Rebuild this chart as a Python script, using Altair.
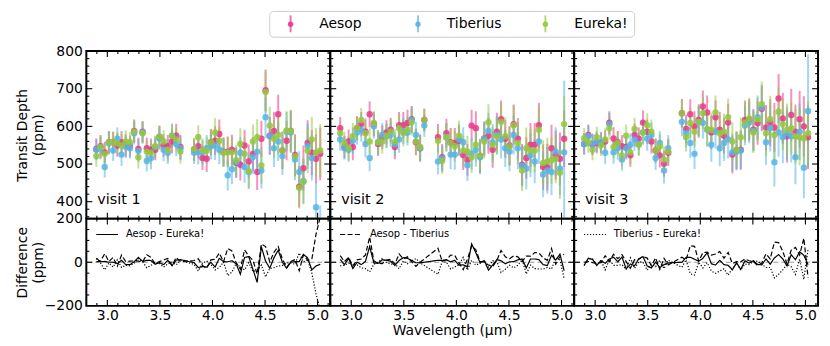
import altair as alt
import pandas as pd

SERIES = ["Aesop", "Tiberius", "Eureka!"]
COLORS = ["#E8388A", "#56B4E9", "#93C83E"]
VISITS = ["visit 1", "visit 2", "visit 3"]
PAIRS = ["Aesop - Eureka!", "Aesop - Tiberius", "Tiberius - Eureka!"]

wavelength = [2.895, 2.935, 2.975, 3.015, 3.055, 3.095, 3.135, 3.175, 3.215, 3.255,
              3.295, 3.335, 3.375, 3.415, 3.455, 3.495, 3.535, 3.575, 3.615, 3.655, 3.695,
              3.825, 3.865, 3.905, 3.945, 3.985, 4.025, 4.065, 4.105, 4.145, 4.185,
              4.225, 4.265, 4.305, 4.345, 4.385, 4.425, 4.465, 4.505, 4.545, 4.585,
              4.625, 4.665, 4.705, 4.745, 4.785, 4.825, 4.865, 4.905, 4.945, 4.985, 5.025]

aesop = {
    "visit 1": [540, 547, 531, 558, 558, 549, 558, 549, 547, 588, 540, 586, 542, 538, 538, 571, 549, 547, 560, 575, 545,
                538, 547, 516, 514, 558, 562, 580, 533, 533, 538, 503, 498, 549, 507, 527, 479, 567, 696, 575, 588,
                632, 536, 562, 588, 524, 440, 489, 556, 530, 514, 527],
    "visit 2": [595, 545, 560, 545, 595, 606, 586, 632, 606, 553, 571, 584, 591, 545, 603, 603, 609, 619, 558, 542, 617,
                571, 518, 582, 558, 556, 562, 524, 511, 602, 595, 521, 568, 575, 538, 586, 619, 567, 549, 606, 567,
                498, 516, 551, 551, 603, 492, 492, 542, 524, 514, 567],
    "visit 3": [553, 577, 551, 556, 556, 560, 610, 568, 558, 547, 545, 523, 577, 567, 610, 586, 560, 536, 523, 501, 530,
                635, 593, 632, 600, 617, 653, 637, 584, 624, 591, 575, 610, 525, 536, 538, 617, 617, 591, 609, 647,
                597, 610, 597, 674, 621, 574, 630, 586, 619, 600, 571],
}
tiberius = {
    "visit 1": [538, 542, 492, 555, 536, 567, 525, 546, 542, 582, 535, 584, 508, 516, 545, 568, 538, 530, 575, 553, 542,
                530, 531, 531, 542, 547, 549, 538, 531, 470, 486, 505, 530, 492, 479, 518, 533, 483, 624, 574, 542,
                560, 521, 586, 584, 512, 479, 455, 547, 516, 385, 320],
    "visit 2": [565, 542, 538, 562, 584, 591, 553, 516, 600, 558, 577, 574, 577, 553, 565, 588, 584, 617, 577, 542, 602,
                507, 514, 571, 525, 525, 565, 558, 497, 527, 538, 518, 567, 588, 558, 577, 565, 542, 533, 577, 542,
                495, 488, 523, 507, 560, 472, 483, 479, 533, 488, 531],
    "visit 3": [553, 574, 553, 560, 558, 530, 606, 531, 542, 512, 542, 551, 565, 553, 584, 567, 577, 516, 556, 483, 542,
                612, 582, 556, 527, 612, 609, 591, 551, 586, 542, 556, 565, 531, 533, 536, 602, 610, 588, 624, 650,
                558, 595, 505, 584, 571, 582, 574, 518, 586, 490, 641],
}
eureka = {
    "visit 1": [521, 545, 527, 558, 558, 555, 549, 560, 558, 586, 518, 582, 533, 530, 547, 573, 560, 538, 575, 565, 533,
                540, 571, 536, 536, 558, 584, 562, 530, 531, 531, 510, 553, 527, 481, 560, 571, 496, 691, 602, 567,
                577, 536, 589, 588, 521, 437, 453, 536, 565, 531, 536],
    "visit 2": [582, 556, 542, 574, 595, 617, 582, 560, 609, 558, 560, 575, 586, 560, 595, 582, 591, 611, 560, 545, 617,
                562, 509, 571, 556, 547, 575, 536, 533, 518, 551, 523, 560, 611, 551, 574, 612, 574, 547, 603, 556,
                483, 542, 536, 536, 591, 503, 507, 510, 514, 477, 606],
    "visit 3": [568, 558, 538, 571, 549, 565, 595, 545, 556, 523, 575, 531, 593, 551, 584, 603, 586, 536, 547, 512, 533,
                635, 571, 609, 586, 612, 635, 593, 591, 637, 582, 586, 624, 560, 538, 571, 610, 621, 584, 619, 659,
                582, 619, 577, 639, 606, 591, 595, 574, 571, 568, 582],
}
errors = {
    "visit 1": [28, 30, 28, 30, 28, 30, 30, 30, 28, 30, 30, 28, 28, 30, 28, 30, 30, 30, 32, 32, 32,
                30, 32, 32, 35, 35, 38, 38, 38, 40, 40, 40, 42, 42, 45, 45, 48, 48, 55, 50, 50,
                52, 50, 52, 55, 55, 55, 60, 60, 60, 65, 70],
    "visit 2": [30, 30, 32, 35, 32, 32, 35, 35, 32, 32, 32, 32, 32, 32, 35, 35, 35, 35, 35, 35, 30,
                35, 35, 38, 38, 40, 40, 40, 42, 42, 45, 45, 45, 48, 48, 50, 50, 50, 52, 52, 55,
                55, 55, 58, 58, 60, 60, 62, 62, 65, 70, 75],
    "visit 3": [28, 28, 28, 28, 28, 30, 30, 30, 30, 30, 30, 30, 30, 30, 32, 32, 32, 32, 32, 35, 35,
                38, 38, 40, 40, 42, 42, 45, 45, 45, 48, 48, 50, 50, 50, 52, 52, 55, 55, 58, 60,
                60, 62, 65, 65, 68, 70, 70, 72, 75, 80, 85],
}
tiberius_last_err = {"visit 1": 70, "visit 2": 190, "visit 3": 150}

x_major = [3.0, 3.5, 4.0, 4.5, 5.0]
x_minor = [2.9, 3.1, 3.2, 3.3, 3.4, 3.6, 3.7, 3.8, 3.9, 4.1, 4.2, 4.3, 4.4, 4.6, 4.7, 4.8, 4.9, 5.1]
top_major = [400, 500, 600, 700, 800]
top_minor = [360, 380, 420, 440, 460, 480, 520, 540, 560, 580, 620, 640, 660, 680, 720, 740, 760, 780]
bot_major = [-200, 0, 200]
bot_minor = [-150, -100, -50, 50, 100, 150]

W, H_TOP, H_BOT = 246, 169, 88
FONT = "DejaVu Sans"

# ---------- tables ----------
src = {"Aesop": aesop, "Tiberius": tiberius, "Eureka!": eureka}
rows = []
for v in VISITS:
    for s in SERIES:
        vals = src[s][v]
        for i, (w, d) in enumerate(zip(wavelength, vals)):
            e = errors[v][i]
            if s == "Tiberius" and i == len(wavelength) - 1:
                e = tiberius_last_err[v]
            rows.append({"visit": v, "series": s, "wl": w, "depth": d, "lo": d - e, "hi": d + e})
df = pd.DataFrame(rows)

drows = []
for v in VISITS:
    a, t, e = aesop[v], tiberius[v], eureka[v]
    for i, w in enumerate(wavelength):
        drows.append({"visit": v, "pair": PAIRS[0], "wl": w, "diff": a[i] - e[i]})
        drows.append({"visit": v, "pair": PAIRS[1], "wl": w, "diff": a[i] - t[i]})
        drows.append({"visit": v, "pair": PAIRS[2], "wl": w, "diff": t[i] - e[i]})
ddf = pd.DataFrame(drows)

xscale = alt.Scale(domain=[2.80, 5.12], nice=False, zero=False)
top_scale = alt.Scale(domain=[355, 800], nice=False, zero=False)
bot_scale = alt.Scale(domain=[-200, 200], nice=False, zero=False)
color = alt.Color("series:N", scale=alt.Scale(domain=SERIES, range=COLORS), legend=None)
one = alt.Data(values=[{"a": 1}])


def tick_layers(yscale, ymaj, ymin, H, xaxis, yaxis):
    out = []
    for vals, ln in ((x_major, 6), (x_minor, 3)):
        t = pd.DataFrame({"v": vals})
        for y0, y1 in ((0, ln), (H, H - ln)):
            out.append(alt.Chart(t).mark_rule(color="black", strokeWidth=1.1).encode(
                x=alt.X("v:Q", scale=xscale, axis=xaxis), y=alt.value(y0), y2=alt.value(y1)))
    for vals, ln in ((ymaj, 6), (ymin, 3)):
        t = pd.DataFrame({"v": vals})
        for x0, x1 in ((0, ln), (W, W - ln)):
            out.append(alt.Chart(t).mark_rule(color="black", strokeWidth=1.1).encode(
                y=alt.Y("v:Q", scale=yscale, axis=yaxis), x=alt.value(x0), x2=alt.value(x1)))
    return out


def top_panel(idx):
    v = VISITS[idx]
    d = df[df.visit == v]
    if idx == 0:
        yaxis = alt.Axis(values=top_major, title=["Transit Depth", "(ppm)"], ticks=False, tickSize=0,
                         domain=False, grid=False, labelFontSize=14, labelPadding=4, labelColor="black",
                         titleFontSize=14, titleFontWeight="normal", titleColor="black",
                         titleX=-57, titleY=H_TOP / 2, titleBaseline="bottom", titleLineHeight=16)
    else:
        yaxis = None
    bars = alt.Chart(d).mark_rule(strokeWidth=2, opacity=0.55, clip=True).encode(
        x=alt.X("wl:Q", scale=xscale, axis=None),
        y=alt.Y("lo:Q", scale=top_scale, axis=yaxis), y2="hi:Q", color=color)
    pts = alt.Chart(d).mark_circle(size=42, opacity=0.85, clip=True).encode(
        x=alt.X("wl:Q", scale=xscale, axis=None),
        y=alt.Y("depth:Q", scale=top_scale, axis=yaxis), color=color)
    label = alt.Chart(one).mark_text(text=v, align="left", baseline="middle", fontSize=14.5,
                                     color="black").encode(x=alt.value(11), y=alt.value(150))
    layers = [bars, pts] + tick_layers(top_scale, top_major, top_minor, H_TOP, None, yaxis) + [label]
    if idx == 1:
        leg = pd.DataFrame({"series": SERIES})
        lx = alt.X("series:N", scale=alt.Scale(type="point", domain=SERIES, range=[-40, 217], padding=0),
                   axis=None)
        box = alt.Chart(one).mark_rect(fill="white", stroke="#cccccc", strokeWidth=1, cornerRadius=4).encode(
            x=alt.value(-61), x2=alt.value(307), y=alt.value(-40), y2=alt.value(-14))
        lbar = alt.Chart(leg).mark_rule(strokeWidth=2, opacity=0.7).encode(
            x=lx, y=alt.value(-36), y2=alt.value(-19), color=color)
        lpt = alt.Chart(leg).mark_circle(size=30, opacity=0.9).encode(x=lx, y=alt.value(-27), color=color)
        ltx = alt.Chart(leg).mark_text(align="left", baseline="middle", dx=29, fontSize=14, color="black").encode(
            x=lx, y=alt.value(-27), text="series:N")
        layers += [box, lbar, lpt, ltx]
        return alt.layer(*layers).resolve_scale(x="independent").properties(width=W, height=H_TOP)
    return alt.layer(*layers).properties(width=W, height=H_TOP)


def bottom_panel(idx):
    v = VISITS[idx]
    d = ddf[ddf.visit == v]
    xaxis = alt.Axis(values=x_major, format=".1f", ticks=False, tickSize=0, domain=False, grid=False,
                     labelFontSize=14, labelPadding=3, labelColor="black",
                     title="Wavelength (μm)" if idx == 1 else "", titleFontSize=14,
                     titleFontWeight="normal", titleColor="black", titlePadding=1)
    if idx == 0:
        yaxis = alt.Axis(values=bot_major, title=["Difference", "(ppm)"], ticks=False, tickSize=0,
                         domain=False, grid=False, labelFontSize=14, labelPadding=4, labelColor="black",
                         titleFontSize=14, titleFontWeight="normal", titleColor="black",
                         titleX=-57, titleY=H_BOT / 2, titleBaseline="bottom", titleLineHeight=16)
    else:
        yaxis = None
    dash = alt.StrokeDash("pair:N", scale=alt.Scale(domain=PAIRS, range=[[1, 0], [5, 2.5], [1.2, 1.8]]),
                          legend=None)
    zero = alt.Chart(one).mark_rule(color="#999999", strokeDash=[5, 3], strokeWidth=1).encode(
        y=alt.Y("z:Q", scale=bot_scale, axis=yaxis)).transform_calculate(z="0")
    lines = alt.Chart(d).mark_line(color="black", strokeWidth=1.2, clip=True).encode(
        x=alt.X("wl:Q", scale=xscale, axis=xaxis),
        y=alt.Y("diff:Q", scale=bot_scale, axis=yaxis), strokeDash=dash)
    dashes = {0: [1, 0], 1: [5, 2.5], 2: [1.2, 1.8]}
    samp = alt.Chart(one).mark_rule(color="black", strokeWidth=1.2, strokeDash=dashes[idx]).encode(
        x=alt.value(10), x2=alt.value(32), y=alt.value(16))
    txt = alt.Chart(one).mark_text(text=PAIRS[idx], align="left", baseline="middle", fontSize=10,
                                   color="black").encode(x=alt.value(40), y=alt.value(16))
    layers = [zero, lines] + tick_layers(bot_scale, [0], bot_minor, H_BOT, xaxis, yaxis) + [samp, txt]
    return alt.layer(*layers).properties(width=W, height=H_BOT)


panels = [top_panel(i) for i in range(3)] + [bottom_panel(i) for i in range(3)]
chart = alt.concat(*panels, columns=3, spacing=0, bounds="flush").properties(
    padding={"left": 7, "top": 0, "right": 2, "bottom": 2}
).configure(font=FONT).configure_view(stroke="black", strokeWidth=2)

chart.save("out.html", embed_options={"renderer": "svg", "actions": False})
